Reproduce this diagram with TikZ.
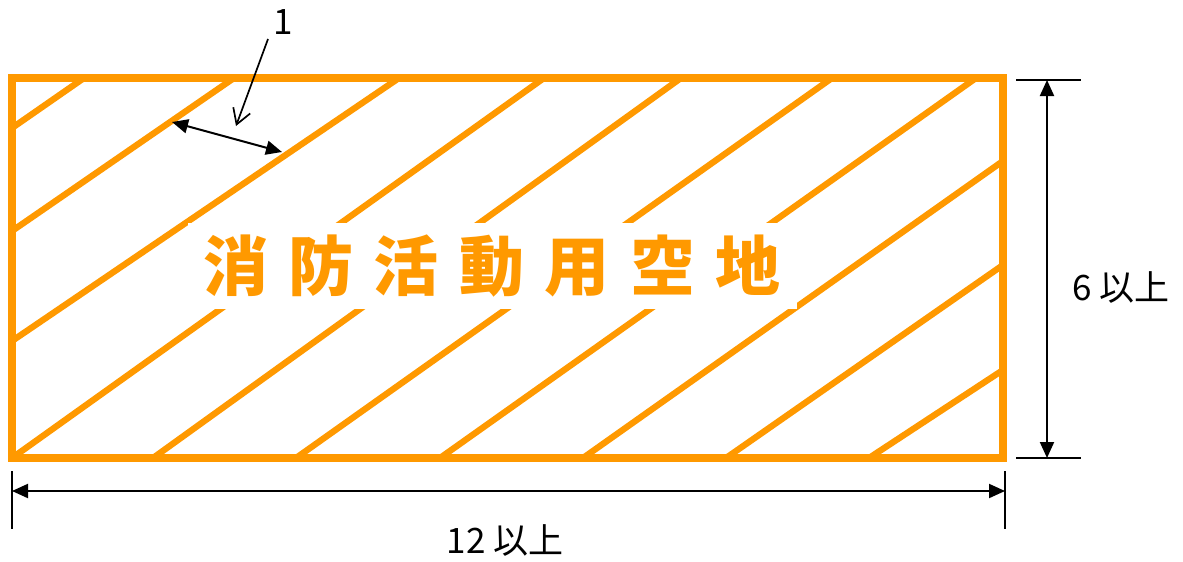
\documentclass[tikz,border=0pt]{standalone}
\usepackage{fontspec}
\setmainfont{Noto Sans CJK JP}
\usetikzlibrary{arrows.meta}
\definecolor{siteorange}{RGB}{255,153,0}
\newcommand{\gap}{\hspace{20.5pt}}

\begin{document}
\begin{tikzpicture}[x=1pt,y=-1pt,
    hatch/.style={siteorange,line width=6.3pt},
    frame/.style={siteorange,line width=7.2pt},
    dim/.style={black,line width=2pt,{Triangle[length=16pt,width=14pt]}-{Triangle[length=16pt,width=14pt]}},
    ext/.style={black,line width=2.4pt},
    lbl/.style={font=\fontsize{35}{40}\selectfont,inner sep=0pt}]

    \useasboundingbox (0,0) rectangle (1183,562);

    % Site corners
    \coordinate (nw) at (12,78);
    \coordinate (ne) at (1003,78);
    \coordinate (se) at (1003,458);
    \coordinate (sw) at (12,458);

    % Hatching
    \foreach \xa/\ya/\xb/\yb in {12/128/84/78, 12/231/234/78, 12/341/399/78,
        12/458/544/78, 153/458/681/78, 296/458/832/78, 440/458/976/78,
        583/458/1003/161, 726/458/1003/265, 869/458/1003/370} {
      \draw[hatch] (\xa,\ya) -- (\xb,\yb);
    }

    % Title on white
    \node[fill=white,minimum width=609pt,minimum height=86pt,text=siteorange,
      font=\fontsize{65}{70}\selectfont\bfseries] (title) at (492,266)
      {消\gap 防\gap 活\gap 動\gap 用\gap 空\gap 地};

    % Outline
    \draw[frame] (nw) rectangle (se);

    % Callout 1
    \node[lbl] (one) at (283,22) {1};
    \coordinate (lead1) at (268,39);
    \coordinate (tip1) at (236,126);
    \draw[black,line width=1.7pt,-{Straight Barb[length=15pt,width=18pt]}] (lead1) -- (tip1);

    % Stripe spacing
    \coordinate (w1) at (172,122);
    \coordinate (w2) at (282,152);
    \draw[dim] (w1) -- (w2);

    % Height
    \coordinate (h1) at (1047,80);
    \coordinate (h2) at (1047,458);
    \draw[ext] (1016,80) -- (1081,80);
    \draw[ext] (1016,458) -- (1081,458);
    \draw[dim] (h1) -- (h2);
    \node[lbl] (hlbl) at (1121,288) {6 以上};

    % Width
    \coordinate (d1) at (12,491);
    \coordinate (d2) at (1005,491);
    \draw[ext] (sw) ++(0,13) -- ++(0,58);
    \draw[ext] (1005,471) -- (1005,529);
    \draw[dim] (d1) -- (d2);
    \node[lbl] (wlbl) at (505,541) {12 以上};

  \end{tikzpicture}
\end{document}
